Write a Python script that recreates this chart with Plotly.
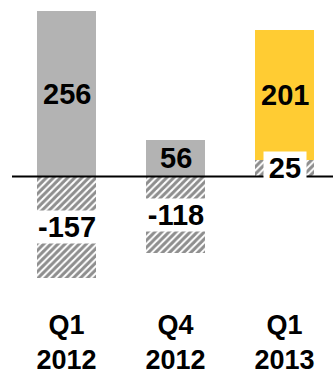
import plotly.graph_objects as go

# Quarterly result split into an operating part and a hatched adjustment part
quarters = ["Q1<br>2012", "Q4<br>2012", "Q1<br>2013"]
operating = [256, 56, 201]
adjustment = [-157, -118, 25]
bar_colors = ["#B3B3B3", "#B3B3B3", "#FFCC33"]

FONT = "Liberation Sans"
BAR_W = 0.55

fig = go.Figure()

# hatched adjustment segment first so it sits on the baseline
fig.add_trace(go.Bar(
    x=quarters, y=adjustment, width=BAR_W,
    marker=dict(
        color="white",
        line=dict(width=0),
        pattern=dict(shape="/", fgcolor="#1e1e1e", bgcolor="white",
                     size=5, solidity=0.6),
    ),
    hoverinfo="skip", showlegend=False,
))

fig.add_trace(go.Bar(
    x=quarters, y=operating, width=BAR_W,
    marker=dict(color=bar_colors, line=dict(width=0)),
    hoverinfo="skip", showlegend=False,
))

# value labels
for q, op, adj in zip(quarters, operating, adjustment):
    base = adj if adj > 0 else 0
    fig.add_annotation(
        x=q, y=base + op / 2, text=f"<b>{op}</b>", showarrow=False,
        font=dict(family=FONT, size=29, color="black"),
    )
    fig.add_annotation(
        x=q, y=adj / 2, text=f"<b>{adj}</b>", showarrow=False,
        font=dict(family=FONT, size=29, color="black"),
        bgcolor="white", borderpad=0,
        width=60 if adj < 0 else 42,
    )

# baseline
fig.add_shape(type="line", xref="paper", yref="y", x0=0, x1=1, y0=0, y1=0,
              line=dict(color="black", width=2))

fig.update_layout(
    width=333, height=374,
    margin=dict(l=12, r=0, t=0, b=84),
    paper_bgcolor="white", plot_bgcolor="white",
    barmode="relative", bargap=0,
    xaxis=dict(range=[-0.5, 2.445], showgrid=False, zeroline=False,
               showline=False, ticks="", ticklabelstandoff=16,
               tickfont=dict(family=FONT, size=27, color="black"),
               tickvals=quarters,
               ticktext=[f"<b>{t}</b>" for t in quarters]),
    yaxis=dict(range=[-175, 272.4], visible=False, showgrid=False,
               zeroline=False),
)

fig.write_html("out.html")
